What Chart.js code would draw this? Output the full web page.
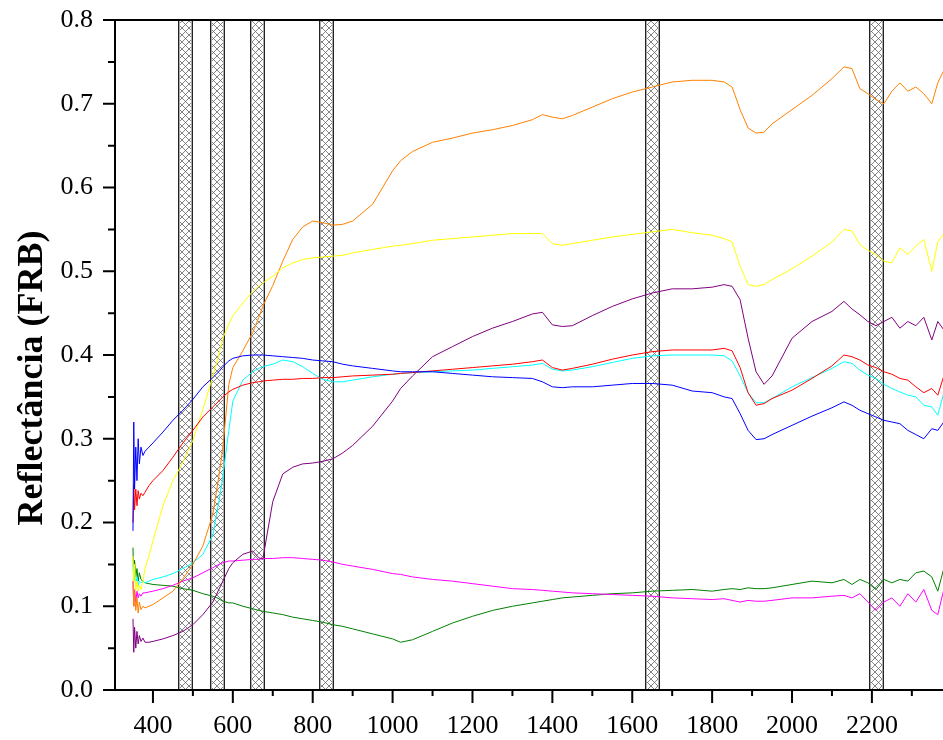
<!DOCTYPE html>
<html>
<head>
<meta charset="utf-8">
<script src="https://cdn.jsdelivr.net/npm/chart.js@4.4.1/dist/chart.umd.min.js"></script>
<style>
  html, body { margin: 0; padding: 0; background: #fff; overflow: hidden; }
  #wrap { width: 943px; height: 740px; }
</style>
</head>
<body>
<div id="wrap"><canvas id="chart" width="943" height="740"></canvas></div>
<script>
// wavelengths (nm)
const wl = [350,352,354,357,360,363,366,370,375,380,
  390,400,425,450,475,500,525,550,565,575,
  590,600,625,650,665,675,700,725,750,775,
  800,825,850,875,900,950,1000,1020,1050,1100,
  1150,1200,1250,1300,1350,1375,1400,1425,1450,1500,
  1550,1600,1650,1700,1750,1800,1830,1850,1870,1890,
  1910,1930,1950,2000,2050,2100,2130,2150,2170,2190,
  2210,2230,2250,2270,2290,2310,2330,2350,2365,2380];

// reflectance series, one value per wavelength
const blue = [0.19,0.32,0.24,0.29,0.25,0.30,0.27,0.29,0.28,0.285,
  0.29,0.295,0.308,0.322,0.334,0.347,0.362,0.373,0.38,0.386,
  0.393,0.396,0.399,0.40,0.40,0.40,0.399,0.398,0.397,0.396,
  0.394,0.393,0.392,0.389,0.387,0.384,0.381,0.38,0.38,0.38,
  0.378,0.376,0.374,0.373,0.372,0.368,0.362,0.361,0.362,0.362,
  0.364,0.366,0.366,0.364,0.357,0.355,0.35,0.348,0.33,0.31,
  0.299,0.30,0.305,0.316,0.327,0.337,0.344,0.34,0.334,0.33,
  0.326,0.322,0.32,0.318,0.31,0.305,0.30,0.312,0.31,0.32];

const red = [0.20,0.245,0.215,0.24,0.22,0.238,0.228,0.235,0.232,0.236,
  0.244,0.25,0.262,0.278,0.295,0.31,0.326,0.338,0.345,0.35,
  0.356,0.359,0.364,0.367,0.368,0.369,0.37,0.371,0.371,0.372,
  0.372,0.373,0.373,0.374,0.375,0.376,0.377,0.378,0.379,0.381,
  0.383,0.385,0.387,0.389,0.392,0.394,0.385,0.382,0.384,0.389,
  0.395,0.40,0.404,0.406,0.406,0.406,0.408,0.405,0.385,0.355,
  0.34,0.342,0.348,0.358,0.372,0.387,0.40,0.398,0.394,0.388,
  0.385,0.38,0.377,0.372,0.37,0.362,0.355,0.36,0.352,0.375];

const yellow = [0.16,0.13,0.15,0.12,0.13,0.118,0.125,0.12,0.13,0.145,
  0.16,0.178,0.22,0.25,0.272,0.298,0.335,0.375,0.40,0.42,
  0.437,0.447,0.462,0.476,0.482,0.486,0.494,0.504,0.51,0.514,
  0.516,0.517,0.518,0.519,0.522,0.526,0.53,0.531,0.533,0.537,
  0.539,0.541,0.543,0.545,0.545,0.545,0.533,0.531,0.533,0.537,
  0.541,0.544,0.547,0.55,0.546,0.543,0.539,0.535,0.506,0.484,
  0.482,0.484,0.49,0.503,0.518,0.535,0.55,0.548,0.532,0.525,
  0.52,0.512,0.51,0.528,0.52,0.53,0.538,0.50,0.535,0.545];

const orange = [0.13,0.10,0.12,0.095,0.11,0.092,0.105,0.096,0.10,0.098,
  0.10,0.102,0.11,0.118,0.133,0.15,0.172,0.21,0.255,0.29,
  0.365,0.385,0.405,0.427,0.445,0.458,0.483,0.512,0.538,0.553,
  0.56,0.558,0.555,0.556,0.56,0.58,0.62,0.632,0.643,0.654,
  0.659,0.665,0.669,0.674,0.681,0.687,0.684,0.682,0.686,0.696,
  0.706,0.714,0.72,0.726,0.728,0.728,0.726,0.72,0.693,0.671,
  0.665,0.666,0.676,0.693,0.71,0.73,0.744,0.742,0.718,0.712,
  0.705,0.70,0.715,0.725,0.715,0.72,0.712,0.70,0.725,0.74];

const cyan = [0.15,0.13,0.145,0.125,0.135,0.125,0.13,0.128,0.13,0.128,
  0.13,0.132,0.135,0.139,0.145,0.152,0.162,0.185,0.225,0.255,
  0.31,0.345,0.37,0.38,0.384,0.386,0.389,0.394,0.392,0.386,
  0.378,0.371,0.368,0.368,0.37,0.374,0.377,0.378,0.379,0.38,
  0.381,0.382,0.384,0.386,0.388,0.39,0.383,0.381,0.382,0.386,
  0.391,0.396,0.399,0.40,0.40,0.40,0.399,0.393,0.375,0.355,
  0.343,0.343,0.348,0.362,0.373,0.384,0.392,0.39,0.382,0.376,
  0.372,0.365,0.36,0.356,0.352,0.35,0.34,0.338,0.328,0.355];

const purple = [0.085,0.045,0.075,0.05,0.07,0.055,0.065,0.058,0.062,0.057,
  0.057,0.058,0.061,0.065,0.07,0.078,0.09,0.105,0.12,0.13,
  0.145,0.152,0.162,0.166,0.158,0.156,0.225,0.258,0.266,0.27,
  0.271,0.273,0.276,0.283,0.292,0.315,0.345,0.36,0.375,0.398,
  0.41,0.422,0.432,0.44,0.449,0.451,0.436,0.434,0.435,0.447,
  0.458,0.467,0.474,0.479,0.479,0.481,0.484,0.482,0.466,0.42,
  0.38,0.365,0.375,0.42,0.44,0.452,0.464,0.455,0.448,0.44,
  0.435,0.44,0.445,0.432,0.44,0.435,0.445,0.418,0.44,0.43];

const magenta = [0.13,0.10,0.12,0.105,0.118,0.11,0.115,0.112,0.116,0.116,
  0.117,0.118,0.121,0.125,0.13,0.134,0.14,0.146,0.15,0.152,
  0.154,0.154,0.155,0.156,0.156,0.157,0.157,0.158,0.158,0.157,
  0.156,0.155,0.153,0.15,0.148,0.144,0.139,0.138,0.135,0.132,
  0.13,0.127,0.124,0.121,0.12,0.119,0.118,0.117,0.116,0.115,
  0.114,0.113,0.112,0.11,0.109,0.108,0.109,0.107,0.105,0.107,
  0.106,0.106,0.107,0.11,0.11,0.112,0.113,0.11,0.115,0.105,
  0.095,0.105,0.11,0.10,0.115,0.105,0.12,0.095,0.09,0.12];

const green = [0.17,0.13,0.155,0.135,0.145,0.13,0.14,0.132,0.13,0.128,
  0.127,0.126,0.125,0.124,0.121,0.119,0.115,0.112,0.109,0.106,
  0.104,0.104,0.10,0.097,0.095,0.094,0.092,0.09,0.087,0.085,
  0.083,0.081,0.078,0.076,0.073,0.067,0.061,0.057,0.06,0.07,
  0.08,0.088,0.095,0.10,0.104,0.106,0.108,0.11,0.111,0.113,
  0.115,0.116,0.118,0.119,0.12,0.118,0.12,0.121,0.12,0.122,
  0.121,0.121,0.122,0.126,0.13,0.128,0.132,0.126,0.132,0.128,
  0.12,0.132,0.128,0.132,0.13,0.14,0.142,0.135,0.118,0.145];

// hatched sensor bands (nm)
const bandStart = [462, 543, 643, 816, 1633, 2193];
const bandEnd   = [497, 579, 679, 851, 1668, 2228];

// axis ticks
const xMajor = [400,600,800,1000,1200,1400,1600,1800,2000,2200];
const xMinor = [500,700,900,1100,1300,1500,1700,1900,2100,2300];
const yMajor = [0,0.1,0.2,0.3,0.4,0.5,0.6,0.7,0.8];
const yMinor = [0.05,0.15,0.25,0.35,0.45,0.55,0.65,0.75];
const yTitle = 'Reflectância (FRB)';

const series = [
  { data: blue, color: '#0000ff' },
  { data: red, color: '#ff0000' },
  { data: yellow, color: '#ffff00' },
  { data: orange, color: '#ff8000' },
  { data: cyan, color: '#00ffff' },
  { data: purple, color: '#800080' },
  { data: magenta, color: '#ff00ff' },
  { data: green, color: '#008000' }
];

const FONT = "'Liberation Serif', 'Times New Roman', serif";

// crosshatch tile
function hatchPattern(ctx) {
  const c = document.createElement('canvas');
  c.width = 7; c.height = 7;
  const g = c.getContext('2d');
  g.fillStyle = '#fff';
  g.fillRect(0, 0, 7, 7);
  g.strokeStyle = '#666';
  g.lineWidth = 0.8;
  g.beginPath();
  g.moveTo(0, 0); g.lineTo(7, 7);
  g.moveTo(7, 0); g.lineTo(0, 7);
  g.stroke();
  return ctx.createPattern(c, 'repeat');
}

const bands = {
  id: 'bands',
  beforeDatasetsDraw(chart) {
    const { ctx, chartArea: a, scales: { x } } = chart;
    ctx.save();
    const pat = hatchPattern(ctx);
    bandStart.forEach((s, i) => {
      const x1 = Math.round(x.getPixelForValue(s));
      const x2 = Math.round(x.getPixelForValue(bandEnd[i]));
      ctx.fillStyle = pat;
      ctx.fillRect(x1, a.top, x2 - x1, a.bottom - a.top);
      ctx.strokeStyle = '#222';
      ctx.lineWidth = 1;
      ctx.beginPath();
      ctx.moveTo(x1 + 0.5, a.top); ctx.lineTo(x1 + 0.5, a.bottom);
      ctx.moveTo(x2 + 0.5, a.top); ctx.lineTo(x2 + 0.5, a.bottom);
      ctx.stroke();
      ctx.strokeStyle = '#aaa';
      ctx.beginPath();
      ctx.moveTo(x1 + 1.5, a.top); ctx.lineTo(x1 + 1.5, a.bottom);
      ctx.moveTo(x2 - 0.5, a.top); ctx.lineTo(x2 - 0.5, a.bottom);
      ctx.stroke();
    });
    ctx.restore();
  }
};

const frame = {
  id: 'frame',
  afterDraw(chart) {
    const { ctx, chartArea: a, scales: { x, y } } = chart;
    ctx.save();
    ctx.strokeStyle = '#000';
    ctx.lineWidth = 2;
    ctx.beginPath();
    ctx.moveTo(a.left - 1, a.top); ctx.lineTo(a.right, a.top);
    ctx.moveTo(a.left, a.top); ctx.lineTo(a.left, a.bottom + 1);
    ctx.moveTo(a.left - 1, a.bottom); ctx.lineTo(a.right, a.bottom);
    xMajor.forEach(v => { const p = x.getPixelForValue(v); ctx.moveTo(p, a.bottom); ctx.lineTo(p, a.bottom + 13); });
    xMinor.forEach(v => { const p = x.getPixelForValue(v); ctx.moveTo(p, a.bottom); ctx.lineTo(p, a.bottom + 6); });
    yMajor.forEach(v => { const p = y.getPixelForValue(v); ctx.moveTo(a.left, p); ctx.lineTo(a.left - 12, p); });
    yMinor.forEach(v => { const p = y.getPixelForValue(v); ctx.moveTo(a.left, p); ctx.lineTo(a.left - 7, p); });
    ctx.stroke();

    // y axis title
    ctx.translate(42, 378);
    ctx.rotate(-Math.PI / 2);
    ctx.fillStyle = '#000';
    ctx.font = "bold 36px " + FONT;
    ctx.textAlign = 'center';
    ctx.textBaseline = 'alphabetic';
    ctx.fillText(yTitle, 0, 0);
    ctx.restore();
  }
};

new Chart(document.getElementById('chart'), {
  type: 'line',
  data: {
    datasets: series.map(s => ({
      data: wl.map((w, i) => ({ x: w, y: s.data[i] })),
      borderColor: s.color,
      borderWidth: 1,
      pointRadius: 0,
      tension: 0,
      fill: false
    }))
  },
  options: {
    responsive: false,
    animation: false,
    events: [],
    layout: { padding: { top: 20, right: 0, left: 0, bottom: 0 } },
    plugins: { legend: { display: false }, tooltip: { enabled: false } },
    scales: {
      x: {
        type: 'linear',
        min: 305,
        max: 2378,
        grid: { display: false, drawTicks: false },
        border: { display: false },
        afterBuildTicks: sc => { sc.ticks = xMajor.map(v => ({ value: v })); },
        afterFit: sc => { sc.height = 50; sc.paddingLeft = 0; sc.paddingRight = 0; },
        ticks: {
          padding: 21,
          color: '#000',
          font: { family: FONT, size: 26 },
          maxRotation: 0,
          autoSkip: false,
          callback: v => String(v)
        }
      },
      y: {
        min: 0,
        max: 0.8,
        grid: { display: false, drawTicks: false },
        border: { display: false },
        afterBuildTicks: sc => { sc.ticks = yMajor.map(v => ({ value: v })); },
        afterFit: sc => { sc.width = 115; sc.paddingTop = 0; sc.paddingBottom = 0; },
        ticks: {
          padding: 22,
          color: '#000',
          font: { family: FONT, size: 26 },
          callback: v => v.toFixed(1)
        }
      }
    }
  },
  plugins: [bands, frame]
});
</script>
</body>
</html>
